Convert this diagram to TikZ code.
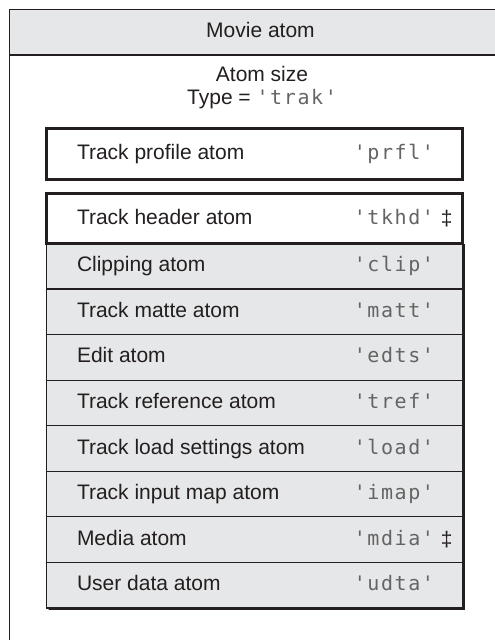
\documentclass[tikz,border=0pt]{standalone}
\usepackage{fontspec}
\setmainfont{Liberation Sans}
\newfontfamily\codefont[LetterSpace=8]{DejaVu Sans Mono}
\usetikzlibrary{positioning,shadows}
\definecolor{atomgray}{HTML}{E6E7E8}
\definecolor{inkblack}{HTML}{231F20}
\definecolor{codegray}{HTML}{646464}
\newcommand{\atomcode}[1]{{\codefont\fontsize{20}{22}\selectfont\color{codegray}#1}}
\newcommand{\atomrow}[2]{\makebox[416pt]{\hspace{30.5pt}#1\hfill\atomcode{#2}\hspace{28.5pt}}}

\begin{document}
\begin{tikzpicture}[
  x=1pt, y=-1pt,
  node distance=0pt,
  every node/.style={text=inkblack, font=\fontsize{21}{23.5}\selectfont},
  atom/.style={draw=inkblack, line width=1.2pt, fill=atomgray, outer sep=0pt,
               inner xsep=0pt, inner ysep=0pt, minimum height=45.56pt,
               text height=15pt, text depth=4pt,
               drop shadow={shadow xshift=1.8pt, shadow yshift=-1.8pt,
                            fill=black!30, opacity=1}},
  boldatom/.style={atom, fill=white, line width=3pt, minimum height=50pt},
  dag/.style={inner sep=0pt}
]
\useasboundingbox (0,0) rectangle (495,640);

% movie atom frame
\fill[atomgray] (9.5,9.5) rectangle (495,55);
\draw[inkblack, line width=1.3pt] (495,9.5) -- (9.5,9.5) -- (9.5,640);
\draw[inkblack, line width=1.3pt] (9.5,55) -- (495,55);
\node[anchor=base] (movie) at (260.5,37.7) {Movie atom};
\node[align=center] (size) at (262,87.5) {Atom size\\Type = \atomcode{'trak'}};

\node[boldatom, minimum height=51pt] (prfl) at (254.5,154) {\atomrow{Track profile atom}{'prfl'}};

% child atoms
\node[atom] (clip) at (254.5,266.28) {\atomrow{Clipping atom}{'clip'}};
\node[atom, below=of clip] (matt) {\atomrow{Track matte atom}{'matt'}};
\node[atom, below=of matt] (edts) {\atomrow{Edit atom}{'edts'}};
\node[atom, below=of edts] (tref) {\atomrow{Track reference atom}{'tref'}};
\node[atom, below=of tref] (load) {\atomrow{Track load settings atom}{'load'}};
\node[atom, below=of load] (imap) {\atomrow{Track input map atom}{'imap'}};
\node[atom, below=of imap] (mdia) {\atomrow{Media atom}{'mdia'}};
\node[atom, below=of mdia] (udta) {\atomrow{User data atom}{'udta'}};
\draw[inkblack, line width=3pt] ([xshift=2pt, yshift=-1pt]udta.south west)
  -- ([xshift=1pt, yshift=-1pt]udta.south east) -- ([xshift=1pt]clip.north east);
\node[boldatom, above=of clip] (tkhd) {\atomrow{Track header atom}{'tkhd'}};

\node[dag] (dagtkhd) at ([xshift=-15.8pt]tkhd.east) {‡};
\node[dag] (dagmdia) at ([xshift=-15.8pt]mdia.east) {‡};
\end{tikzpicture}
\end{document}
